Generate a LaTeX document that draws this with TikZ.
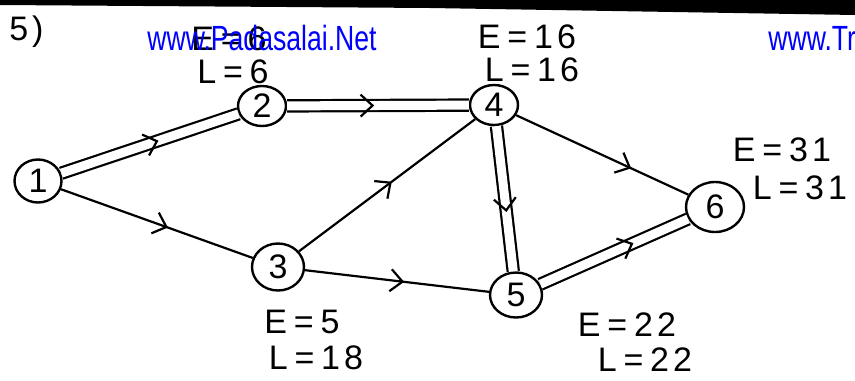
\documentclass[tikz,border=0pt]{standalone}
\usepackage{fontspec}
\setmainfont{Liberation Sans}
\newfontfamily\handfont[LetterSpace=12]{Liberation Sans}
\usetikzlibrary{shapes.geometric,decorations.markings}
\definecolor{wmblue}{RGB}{0,0,255}
\tikzset{
  vert/.style={ellipse,draw,line width=1.2pt,inner sep=0pt,font=\fontsize{17}{17}\selectfont},
  lbl/.style={font=\handfont\fontsize{17}{17}\selectfont,inner sep=0pt},
  crit/.style={double,line width=1.1pt,double distance=4.5pt},
  act/.style={line width=1.1pt},
  chev/.style={decorate,decoration={markings,mark=at position #1 with {\draw[line width=1.1pt,line join=miter] (-6pt,5.5pt) -- (0,0) -- (-6pt,-5.5pt);}}},
  wm/.style={text=wmblue,font=\fontsize{17.5}{17.5}\selectfont,inner sep=0pt},
}
\newcommand{\eqs}{\hspace{0.2em}=\hspace{0.2em}}
\begin{document}
\begin{tikzpicture}[x=0.5pt,y=-0.5pt]
\useasboundingbox (0,0) rectangle (855,380);
\clip (0,0) rectangle (855,380);
\fill[white] (0,0) rectangle (855,380);
\fill[black] (0,0) -- (855,0) -- (855,15) -- (430,8) -- (0,5) -- cycle;

% event nodes
\node[vert,minimum width=23.5pt,minimum height=21.5pt] (n1) at (38,181) {1};
\node[vert,minimum width=24pt,minimum height=20pt] (n2) at (262,106) {2};
\node[vert,minimum width=26pt,minimum height=23.5pt] (n3) at (278,267) {3};
\node[vert,minimum width=24pt,minimum height=20pt] (n4) at (494,105) {4};
\node[vert,minimum width=26pt,minimum height=22.5pt] (n5) at (516,295) {5};
\node[vert,minimum width=29pt,minimum height=25pt] (n6) at (715,207) {6};

% activities
\draw[crit] (n1) -- (n2);
\draw[crit] (n2) -- (n4);
\draw[crit] (n4) -- (n5);
\draw[crit] (n5) -- (n6);
\draw[act] (n1) -- (n3);
\draw[act] (n3) -- (n4);
\draw[act] (n3) -- (n5);
\draw[act] (n4) -- (n6);

% chevrons
\path[chev=0.54] (n1) -- (n2);
\path[chev=0.47] (n2) -- (n4);
\path[chev=0.58] (n4) -- (n5);
\path[chev=0.62] (n5) -- (n6);
\path[chev=0.55] (n1) -- (n3);
\path[chev=0.52] (n3) -- (n4);
\path[chev=0.53] (n3) -- (n5);
\path[chev=0.66] (n4) -- (n6);

% labels
\node[lbl] (e2) at (229,39) {E\eqs6};
\node[lbl] (l2) at (233,72) {L\eqs6};
\node[lbl] (e4) at (527,37) {E\eqs16};
\node[lbl] (l4) at (532,70) {L\eqs16};
\node[lbl] (e6) at (782,150) {E\eqs31};
\node[lbl] (l6) at (800,188) {L\eqs31};
\node[lbl] (e3) at (302,322) {E\eqs5};
\node[lbl] (l3) at (316,358) {L\eqs18};
\node[lbl] (e5) at (627,325) {E\eqs22};
\node[lbl] (l5) at (645,360) {L\eqs22};
\node[lbl,anchor=base east] (q) at (44,40) {5)};

% watermarks
\node[wm,anchor=base west] (wm1) at (147,50) {\scalebox{0.76}[1]{www.Padasalai.Net}};
\node[wm,anchor=base west] (wm2) at (768,50) {\scalebox{0.76}[1]{www.Tr}};
\end{tikzpicture}
\end{document}
